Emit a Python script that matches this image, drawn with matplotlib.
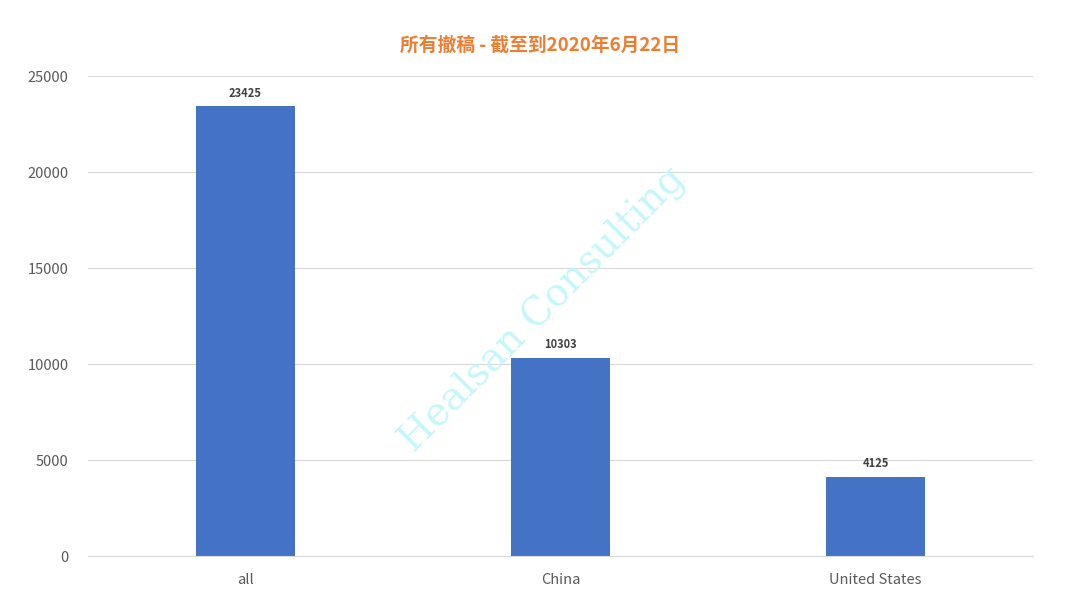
import matplotlib.pyplot as plt

plt.rcParams['font.family'] = ['Noto Sans CJK SC', 'DejaVu Sans']

categories = ["all", "China", "United States"]
values = [23425, 10303, 4125]
title = "所有撤稿 - 截至到2020年6月22日"

fig = plt.figure(figsize=(10.8, 6.08), dpi=100)
ax = fig.add_axes([0.0815, 0.0855, 0.875, 0.7895])

x = range(len(categories))
bars = ax.bar(x, values, width=0.315, color="#4472C4", zorder=2)
for b, v in zip(bars, values):
    ax.text(b.get_x() + b.get_width() / 2, v + 350, str(v), ha="center", va="bottom",
            fontsize=8, fontweight="bold", color="#404040")

ax.set_xlim(-0.5, 2.5)
ax.set_ylim(0, 25000)
ax.set_yticks(range(0, 25001, 5000))
ax.set_xticks(list(x))
ax.set_xticklabels(categories)
ax.tick_params(length=0, labelsize=10.5, colors="#595959")
ax.tick_params(axis="x", pad=12)
ax.tick_params(axis="y", pad=14)
ax.grid(axis="y", color="#D9D9D9", linewidth=0.8, zorder=0)
for s in ["top", "right", "left"]:
    ax.spines[s].set_visible(False)
ax.spines["bottom"].set_color("#D9D9D9")

fig.text(0.5, 0.925, title, ha="center", va="center", fontsize=13.5,
         fontweight="bold", color="#ED7D31")
fig.text(0.503, 0.49, "Healsan Consulting", ha="center", va="center", rotation=45,
         fontsize=28, family="DejaVu Serif", color="#BFF6FA", alpha=0.9, zorder=5)

fig.savefig("out.png", dpi=100)
